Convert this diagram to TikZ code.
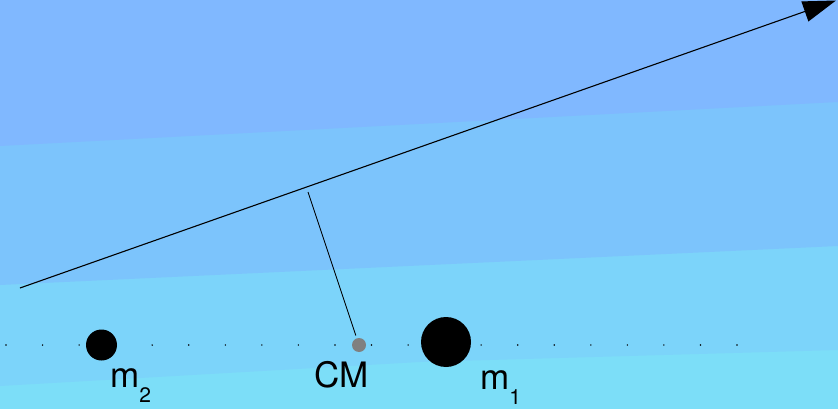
\documentclass[tikz,border=0pt]{standalone}
\usepackage{fontspec}
\setmainfont{TeX Gyre Heros}
\usetikzlibrary{arrows.meta}
\definecolor{bandA}{RGB}{128,184,255}
\definecolor{bandB}{RGB}{124,196,252}
\definecolor{bandC}{RGB}{124,212,250}
\definecolor{bandD}{RGB}{124,222,248}
\definecolor{cmgray}{RGB}{128,128,128}
\newcommand{\lowsub}[1]{\raisebox{-15pt}{\fontsize{21}{21}\selectfont #1}}
\begin{document}
\begin{tikzpicture}[x=1pt,y=-1pt,
  mass/.style={circle,fill=black,inner sep=0pt},
  cmdot/.style={circle,fill=cmgray,inner sep=0pt,minimum size=14pt,outer sep=3pt},
  lbl/.style={inner sep=0pt,font=\fontsize{35}{35}\selectfont},
  axisdot/.style={fill=black}]
\useasboundingbox (0,0) rectangle (838,409);
\fill[bandD] (0,0) rectangle (838,409);
\fill[bandC] (0,0) -- (838,0) -- (838,350) -- (420,362) -- (0,386) -- cycle;
\fill[bandB] (0,0) -- (838,0) -- (838,246) -- (0,285) -- cycle;
\fill[bandA] (0,0) -- (838,0) -- (838,102) -- (0,146) -- cycle;
\foreach \k in {0,...,20} \fill[axisdot] ({6+36.55*\k},345) circle (0.8);
\node[mass,minimum size=31pt] (m2) at (101.5,345) {};
\node[mass,minimum size=50pt] (m1) at (446,342) {};
\node[cmdot] (cm) at (359,345) {};
\coordinate (s) at (20,288);
\coordinate (t) at (836,0.5);
\coordinate (foot) at (308,192);
\draw[line width=1.1pt,-{Triangle[length=33pt,width=21pt]}] (s) -- (t);
\draw[line width=0.9pt] (foot) -- (cm);
\node[lbl,anchor=base west] (l2) at (110,387) {m\lowsub{2}};
\node[lbl,anchor=base] (lcm) at (341.5,387) {CM};
\node[lbl,anchor=base west] (l1) at (480,389) {m\lowsub{1}};
\end{tikzpicture}
\end{document}
